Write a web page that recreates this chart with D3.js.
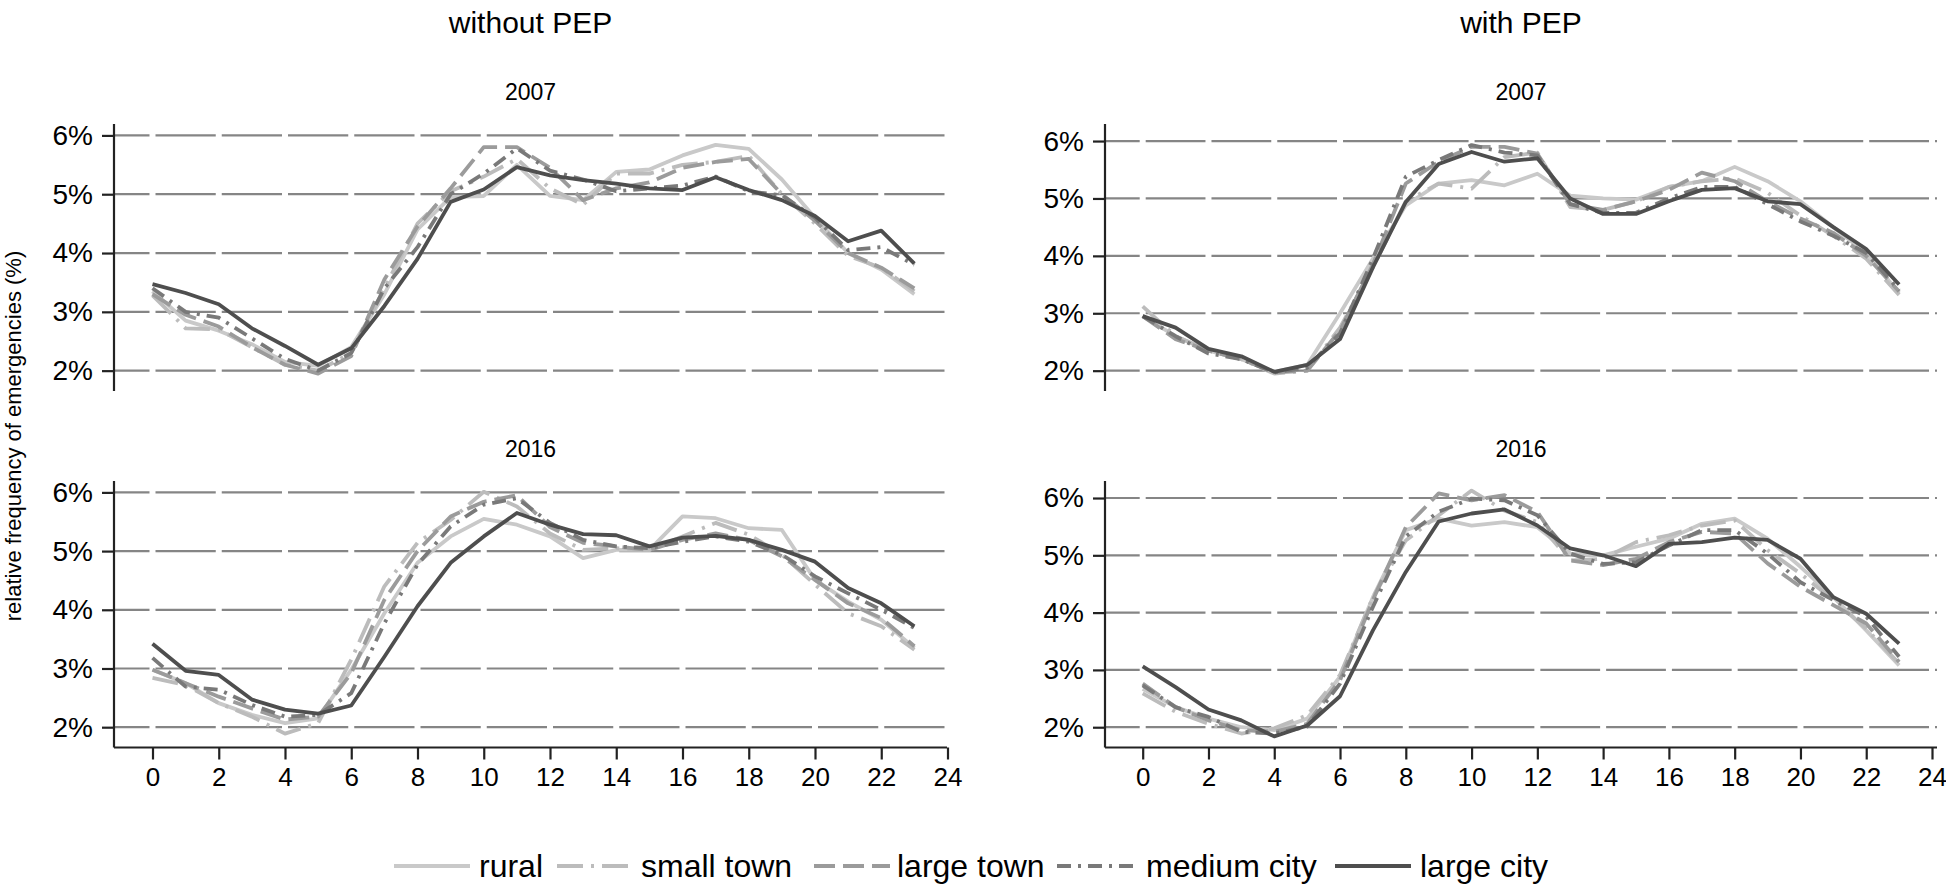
<!DOCTYPE html>
<html><head><meta charset="utf-8">
<script src="https://cdn.jsdelivr.net/npm/d3@7"></script>
<style>body{margin:0;background:#fff}svg{display:block}text{font-family:"Liberation Sans",Arial,Helvetica,sans-serif;fill:#000}</style>
</head><body><svg id="c" width="1946" height="886"></svg>
<script>
const hours = d3.range(0, 24);
const categories = ["rural", "small town", "large town", "medium city", "large city"];
const groups = ["without PEP", "with PEP"];
const years = ["2007", "2016"];
const yTicks = [2, 3, 4, 5, 6];
const xTicks = d3.range(0, 25, 2);

// without PEP, 2007
const noPep2007_rural      = [3.35,2.85,2.68,2.45,2.15,2.08,2.40,3.30,4.40,4.95,4.97,5.50,4.97,4.90,5.38,5.42,5.66,5.84,5.77,5.25,4.60,4.00,3.72,3.30];
const noPep2007_smallTown  = [3.28,2.72,2.70,2.40,2.10,2.00,2.30,3.40,4.50,5.05,5.30,5.60,5.10,4.82,5.35,5.35,5.50,5.55,5.65,5.00,4.50,3.95,3.75,3.35];
const noPep2007_largeTown  = [3.30,2.95,2.75,2.40,2.10,1.95,2.25,3.55,4.45,5.10,5.80,5.80,5.45,4.90,5.10,5.20,5.45,5.55,5.60,5.00,4.55,4.00,3.75,3.40];
const noPep2007_mediumCity = [3.40,3.00,2.90,2.55,2.20,2.00,2.30,3.40,4.10,5.00,5.35,5.78,5.40,5.25,5.05,5.10,5.15,5.30,5.05,4.98,4.60,4.05,4.10,3.80];
const noPep2007_largeCity  = [3.47,3.32,3.13,2.72,2.42,2.10,2.38,3.10,3.90,4.87,5.08,5.46,5.32,5.24,5.18,5.10,5.07,5.29,5.07,4.90,4.63,4.20,4.38,3.82];
// without PEP, 2016
const noPep2016_rural      = [2.98,2.75,2.41,2.21,2.07,2.15,2.98,3.94,4.80,5.25,5.55,5.45,5.25,4.88,5.02,5.02,5.59,5.56,5.39,5.36,4.51,4.14,3.83,3.35];
const noPep2016_smallTown  = [2.84,2.72,2.41,2.18,1.89,2.07,3.15,4.40,5.14,5.53,6.01,5.76,5.30,5.02,5.05,5.02,5.25,5.48,5.28,4.94,4.43,3.94,3.72,3.32];
const noPep2016_largeTown  = [2.98,2.75,2.52,2.32,2.13,2.18,2.92,4.17,5.00,5.59,5.84,5.95,5.41,5.14,5.08,5.02,5.19,5.30,5.19,4.91,4.51,4.11,3.86,3.38];
const noPep2016_mediumCity = [3.18,2.69,2.64,2.38,2.18,2.21,2.58,3.77,4.77,5.42,5.79,5.90,5.48,5.19,5.08,5.05,5.16,5.25,5.16,4.94,4.57,4.28,4.00,3.69];
const noPep2016_largeCity  = [3.42,2.96,2.89,2.47,2.30,2.23,2.37,3.20,4.06,4.80,5.25,5.65,5.45,5.29,5.27,5.08,5.23,5.26,5.19,5.02,4.82,4.37,4.11,3.72];
// with PEP, 2007
const pep2007_rural      = [2.95,2.60,2.35,2.20,1.98,2.10,3.00,3.95,4.88,5.26,5.32,5.23,5.43,5.05,5.00,4.98,5.20,5.30,5.55,5.30,4.95,4.50,4.05,3.35];
const pep2007_smallTown  = [3.12,2.60,2.35,2.20,1.95,2.00,2.75,3.80,4.95,5.26,5.17,5.72,5.80,4.85,4.80,4.95,5.20,5.30,5.35,5.10,4.70,4.35,3.95,3.32];
const pep2007_largeTown  = [2.95,2.55,2.35,2.20,1.97,2.00,2.70,3.85,5.26,5.64,5.90,5.90,5.78,4.90,4.80,4.95,5.15,5.45,5.30,4.95,4.65,4.40,4.00,3.38];
const pep2007_mediumCity = [2.95,2.60,2.30,2.20,1.97,2.05,2.65,3.95,5.38,5.67,5.93,5.80,5.75,4.90,4.75,4.75,5.00,5.20,5.20,4.90,4.60,4.35,4.05,3.40];
const pep2007_largeCity  = [2.95,2.75,2.38,2.25,1.98,2.10,2.55,3.80,4.94,5.60,5.81,5.64,5.70,5.00,4.73,4.73,4.95,5.15,5.18,4.95,4.90,4.50,4.12,3.50];
// with PEP, 2016
const pep2016_rural      = [2.67,2.35,2.15,2.00,1.95,2.15,2.88,4.27,5.44,5.64,5.52,5.58,5.49,5.03,5.00,5.15,5.29,5.55,5.64,5.29,4.80,4.27,3.69,3.08];
const pep2016_smallTown  = [2.59,2.27,2.06,1.89,1.98,2.21,2.91,4.27,5.26,5.70,6.13,5.78,5.58,4.91,4.94,5.23,5.35,5.52,5.61,5.09,4.68,4.22,3.72,3.11];
const pep2016_largeTown  = [2.76,2.35,2.12,1.95,1.92,2.06,2.82,4.22,5.49,6.08,5.96,6.05,5.76,4.91,4.83,4.94,5.23,5.41,5.38,4.86,4.45,4.13,3.81,3.14];
const pep2016_mediumCity = [2.73,2.35,2.18,1.92,1.89,2.01,2.76,4.10,5.33,5.76,5.99,5.96,5.70,5.03,4.85,4.88,5.17,5.44,5.44,5.03,4.53,4.22,3.93,3.23];
const pep2016_largeCity  = [3.06,2.70,2.31,2.12,1.84,2.03,2.54,3.69,4.71,5.59,5.73,5.80,5.52,5.12,5.00,4.81,5.20,5.23,5.31,5.27,4.94,4.27,3.98,3.46];

const panelData = {
  "without PEP|2007": [noPep2007_rural, noPep2007_smallTown, noPep2007_largeTown, noPep2007_mediumCity, noPep2007_largeCity],
  "without PEP|2016": [noPep2016_rural, noPep2016_smallTown, noPep2016_largeTown, noPep2016_mediumCity, noPep2016_largeCity],
  "with PEP|2007": [pep2007_rural, pep2007_smallTown, pep2007_largeTown, pep2007_mediumCity, pep2007_largeCity],
  "with PEP|2016": [pep2016_rural, pep2016_smallTown, pep2016_largeTown, pep2016_mediumCity, pep2016_largeCity]
};

const styles = [
  {color:"#c9c9c9", dash:null},
  {color:"#bcbcbc", dash:"26 8 3 8"},
  {color:"#9b9b9b", dash:"21 8"},
  {color:"#797979", dash:"14 7 3 7"},
  {color:"#4e4e4e", dash:null}
];

const svg = d3.select("#c");
const colLayout = [
  {axisX:114, x0:152.5, x24:947.5, right:947, yDom:[1.654, 6.194]},
  {axisX:1105, x0:1142.7, x24:1932, right:1937, yDom:[1.646, 6.297]}
];
const rowLayout = [{top:124, bottom:391}, {top:481, bottom:747.5}];
const FONT = '"Liberation Sans",Arial,sans-serif';

groups.forEach((g, gi) => {
  const L = colLayout[gi];
  const x = d3.scaleLinear().domain([0, 24]).range([L.x0, L.x24]);
  svg.append("text").attr("x", (L.axisX + L.right) / 2).attr("y", 33)
    .attr("text-anchor", "middle").attr("font-size", 30).text(g);
  years.forEach((yr, ri) => {
    const R = rowLayout[ri];
    const y = d3.scaleLinear().domain(L.yDom).range([R.bottom, R.top]);
    const gp = svg.append("g");
    gp.append("text").attr("x", (L.axisX + L.right) / 2).attr("y", R.top - 24)
      .attr("text-anchor", "middle").attr("font-size", 23).text(yr);
    // gridlines
    const period = x(2) - x(0), gap = 6;
    gp.selectAll(".grid").data(yTicks).join("line")
      .attr("x1", L.axisX).attr("x2", L.right)
      .attr("y1", d => y(d)).attr("y2", d => y(d))
      .attr("stroke", "#858585").attr("stroke-width", 2.2)
      .attr("stroke-dasharray", `${period - gap} ${gap}`)
      .attr("stroke-dashoffset", -(x(0) + gap / 2 - L.axisX) + period);
    // y axis
    const yAxis = d3.axisLeft(y).tickValues(yTicks).tickSize(12).tickPadding(9).tickFormat(d => d + "%");
    const ya = gp.append("g").attr("transform", `translate(${L.axisX},0)`).call(yAxis);
    ya.select(".domain").attr("d", `M0,${R.top}V${R.bottom}`).attr("stroke", "#222").attr("stroke-width", 2.2);
    ya.selectAll(".tick line").attr("stroke", "#222").attr("stroke-width", 2.2);
    ya.selectAll(".tick text").attr("font-size", 28).attr("font-family", FONT).attr("fill", "#000");
    if (ri === 1) {
      const xAxis = d3.axisBottom(x).tickValues(xTicks).tickSize(12).tickPadding(8);
      const xa = gp.append("g").attr("transform", `translate(0,${R.bottom})`).call(xAxis);
      xa.select(".domain").attr("d", `M${L.axisX},0H${L.right}`).attr("stroke", "#222").attr("stroke-width", 2.2);
      xa.selectAll(".tick line").attr("stroke", "#222").attr("stroke-width", 2.2);
      xa.selectAll(".tick text").attr("font-size", 26).attr("font-family", FONT).attr("fill", "#000");
    }
    const line = d3.line().x((d, i) => x(hours[i])).y(d => y(d));
    const series = panelData[g + "|" + yr];
    series.forEach((vals, si) => {
      gp.append("path").datum(vals).attr("d", line).attr("fill", "none")
        .attr("stroke", styles[si].color).attr("stroke-width", 3.8)
        .attr("stroke-dasharray", styles[si].dash).attr("stroke-linejoin", "round");
    });
  });
});

// y axis title
svg.append("text").attr("transform", "translate(21,436) rotate(-90)")
  .attr("text-anchor", "middle").attr("font-size", 22).text("relative frequency of emergencies (%)");

// legend
const legendX = [394, 557, 814, 1057, 1335];
const legendTextX = [479, 641, 897, 1146, 1420];
const legend = svg.append("g");
categories.forEach((c, i) => {
  const lx = legendX[i];
  legend.append("line").attr("x1", lx).attr("x2", lx + 76).attr("y1", 866).attr("y2", 866)
    .attr("stroke", styles[i].color).attr("stroke-width", 3.8).attr("stroke-dasharray", styles[i].dash);
  legend.append("text").attr("x", legendTextX[i]).attr("y", 877).attr("font-size", 32).text(c);
});
</script></body></html>
